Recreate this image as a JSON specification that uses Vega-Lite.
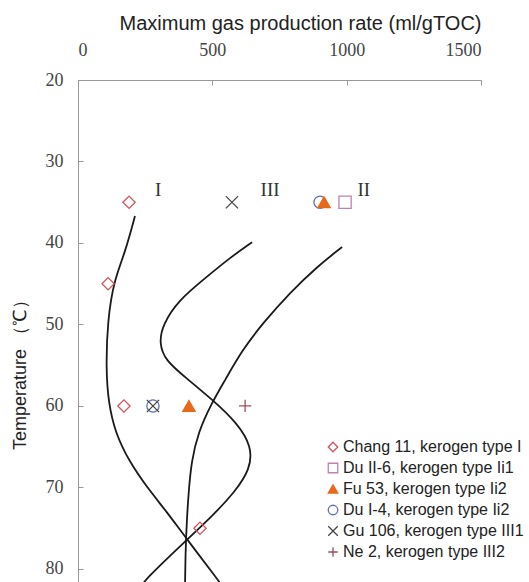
{
  "$schema": "https://vega.github.io/schema/vega-lite/v6.json",
  "autosize": "none",
  "padding": {"left": 78, "top": 80, "right": 48, "bottom": 0},
  "width": 403,
  "height": 502,
  "background": "white",
  "datasets": {
    "curves": [
      {"curve": "I", "i": 1, "x": 212, "y": 36.7},
      {"curve": "I", "i": 2, "x": 175, "y": 41.2},
      {"curve": "I", "i": 3, "x": 135, "y": 44.5},
      {"curve": "I", "i": 4, "x": 110, "y": 49.4},
      {"curve": "I", "i": 5, "x": 104, "y": 55.6},
      {"curve": "I", "i": 6, "x": 114, "y": 59.7},
      {"curve": "I", "i": 7, "x": 138, "y": 63.2},
      {"curve": "I", "i": 8, "x": 190, "y": 66.8},
      {"curve": "I", "i": 9, "x": 264, "y": 70.3},
      {"curve": "I", "i": 10, "x": 331, "y": 73.0},
      {"curve": "I", "i": 11, "x": 406, "y": 76.4},
      {"curve": "I", "i": 12, "x": 521, "y": 81.3},
      {"curve": "I", "i": 13, "x": 551, "y": 82.8},
      {"curve": "III", "i": 1, "x": 648, "y": 39.9},
      {"curve": "III", "i": 2, "x": 566, "y": 41.8},
      {"curve": "III", "i": 3, "x": 470, "y": 44.4},
      {"curve": "III", "i": 4, "x": 375, "y": 47.0},
      {"curve": "III", "i": 5, "x": 315, "y": 50.0},
      {"curve": "III", "i": 6, "x": 302, "y": 52.3},
      {"curve": "III", "i": 7, "x": 325, "y": 54.4},
      {"curve": "III", "i": 8, "x": 400, "y": 56.5},
      {"curve": "III", "i": 9, "x": 503, "y": 59.3},
      {"curve": "III", "i": 10, "x": 590, "y": 62.0},
      {"curve": "III", "i": 11, "x": 648, "y": 65.0},
      {"curve": "III", "i": 12, "x": 640, "y": 67.8},
      {"curve": "III", "i": 13, "x": 585, "y": 70.5},
      {"curve": "III", "i": 14, "x": 500, "y": 73.5},
      {"curve": "III", "i": 15, "x": 406, "y": 76.4},
      {"curve": "III", "i": 16, "x": 249, "y": 81.3},
      {"curve": "III", "i": 17, "x": 220, "y": 82.8},
      {"curve": "II", "i": 1, "x": 983, "y": 40.5},
      {"curve": "II", "i": 2, "x": 890, "y": 42.9},
      {"curve": "II", "i": 3, "x": 789, "y": 46.1},
      {"curve": "II", "i": 4, "x": 689, "y": 49.8},
      {"curve": "II", "i": 5, "x": 610, "y": 53.2},
      {"curve": "II", "i": 6, "x": 548, "y": 56.8},
      {"curve": "II", "i": 7, "x": 495, "y": 59.8},
      {"curve": "II", "i": 8, "x": 448, "y": 63.2},
      {"curve": "II", "i": 9, "x": 422, "y": 66.8},
      {"curve": "II", "i": 10, "x": 412, "y": 70.5},
      {"curve": "II", "i": 11, "x": 405, "y": 74.0},
      {"curve": "II", "i": 12, "x": 400, "y": 78.0},
      {"curve": "II", "i": 13, "x": 398, "y": 82.8}
    ],
    "samples": [
      {"sample": "Du I-4, kerogen type Ii2", "x": 901, "y": 35},
      {"sample": "Du I-4, kerogen type Ii2", "x": 279, "y": 60},
      {"sample": "Gu 106, kerogen type III1", "x": 573, "y": 35},
      {"sample": "Gu 106, kerogen type III1", "x": 279, "y": 60},
      {"sample": "Chang 11, kerogen type I", "x": 190, "y": 35},
      {"sample": "Chang 11, kerogen type I", "x": 112, "y": 45},
      {"sample": "Chang 11, kerogen type I", "x": 171, "y": 60},
      {"sample": "Chang 11, kerogen type I", "x": 454, "y": 75},
      {"sample": "Du II-6, kerogen type Ii1", "x": 994, "y": 35},
      {"sample": "Fu 53, kerogen type Ii2", "x": 916, "y": 35},
      {"sample": "Fu 53, kerogen type Ii2", "x": 413, "y": 60},
      {"sample": "Ne 2, kerogen type III2", "x": 622, "y": 60}
    ],
    "labels": [
      {"label": "I", "x": 298, "y": 33.5},
      {"label": "III", "x": 715, "y": 33.5},
      {"label": "II", "x": 1064, "y": 33.5}
    ]
  },
  "encoding": {
    "x": {
      "field": "x", "type": "quantitative",
      "scale": {"domain": [0, 1500], "nice": false, "zero": false},
      "axis": {
        "orient": "top",
        "values": [0, 500, 1000, 1500],
        "format": "d",
        "title": "Maximum gas production rate (ml/gTOC)",
        "titleFont": "Liberation Sans", "titleFontSize": 20, "titleFontWeight": "normal", "titleColor": "#222",
        "titleX": 222, "titleY": -51, "titleAlign": "center", "titleBaseline": "alphabetic",
        "labelFont": "Liberation Serif", "labelFontSize": 18, "labelColor": "#444",
        "labelPadding": 26
      }
    },
    "y": {
      "field": "y", "type": "quantitative",
      "scale": {"domain": [20, 81.6], "nice": false, "zero": false, "reverse": true},
      "axis": {
        "values": [20, 30, 40, 50, 60, 70, 80],
        "title": "Temperature （℃）",
        "titleFont": "Liberation Sans", "titleFontSize": 18, "titleFontWeight": "normal", "titleColor": "#222",
        "titleX": -58, "titleY": 290, "titleAngle": -90, "titleAlign": "center", "titleBaseline": "middle",
        "labelFont": "Liberation Serif", "labelFontSize": 18, "labelColor": "#444",
        "labelPadding": 20
      }
    }
  },
  "layer": [
    {
      "data": {"name": "curves"},
      "mark": {"type": "line", "interpolate": "basis", "stroke": "#1a1a1a", "strokeWidth": 1.8, "clip": true},
      "encoding": {
        "detail": {"field": "curve"},
        "order": {"field": "i", "type": "quantitative"}
      }
    },
    {
      "data": {"name": "samples"},
      "mark": {"type": "point", "size": 150, "strokeWidth": 1.3, "opacity": 1},
      "encoding": {
        "shape": {
          "field": "sample", "type": "nominal",
          "scale": {
            "domain": ["Chang 11, kerogen type I", "Du II-6, kerogen type Ii1", "Fu 53, kerogen type Ii2", "Du I-4, kerogen type Ii2", "Gu 106, kerogen type III1", "Ne 2, kerogen type III2"],
            "range": ["diamond", "square", "triangle-up", "circle", "M-1,-1L1,1M-1,1L1,-1", "M-1,0L1,0M0,-1L0,1"]
          },
          "legend": {"title": null}
        },
        "stroke": {
          "field": "sample", "type": "nominal",
          "scale": {
            "domain": ["Chang 11, kerogen type I", "Du II-6, kerogen type Ii1", "Fu 53, kerogen type Ii2", "Du I-4, kerogen type Ii2", "Gu 106, kerogen type III1", "Ne 2, kerogen type III2"],
            "range": ["#d4525e", "#c27fb2", "#e8681c", "#6272a8", "#444444", "#a24c5c"]
          },
          "legend": {"title": null}
        },
        "fill": {
          "field": "sample", "type": "nominal",
          "scale": {
            "domain": ["Chang 11, kerogen type I", "Du II-6, kerogen type Ii1", "Fu 53, kerogen type Ii2", "Du I-4, kerogen type Ii2", "Gu 106, kerogen type III1", "Ne 2, kerogen type III2"],
            "range": ["transparent", "transparent", "#e8681c", "transparent", "transparent", "transparent"]
          },
          "legend": {"title": null}
        }
      }
    },
    {
      "data": {"name": "labels"},
      "mark": {"type": "text", "font": "Liberation Serif", "fontSize": 19, "color": "#333", "baseline": "middle", "align": "center"},
      "encoding": {
        "text": {"field": "label"}
      }
    }
  ],
  "config": {
    "view": {"stroke": null},
    "style": {
      "guide-label": {"font": "Liberation Serif", "fontSize": 18, "fill": "#444"}
    },
    "axisX": {"labelFont": "Liberation Serif", "labelFontSize": 18},
    "axisY": {"labelFont": "Liberation Serif", "labelFontSize": 18},
    "axis": {
      "labelFont": "Liberation Serif",
      "labelFontSize": 18,
      "tickSize": -5,
      "tickColor": "#999",
      "domainColor": "#999",
      "grid": false
    },
    "legend": {
      "orient": "none",
      "legendX": 247,
      "legendY": 359,
      "padding": 0,
      "rowPadding": 5,
      "symbolSize": 90,
      "symbolStrokeWidth": 1.3,
      "labelFont": "Liberation Sans",
      "labelFontSize": 16,
      "labelColor": "#222",
      "labelOffset": 2,
      "labelLimit": 400
    }
  }
}
